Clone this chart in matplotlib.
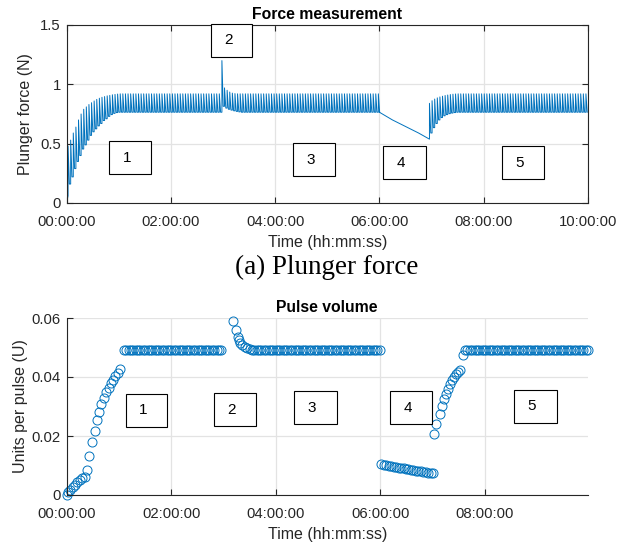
import numpy as np
import matplotlib
matplotlib.use("Agg")
import matplotlib.pyplot as plt
from matplotlib.patches import Rectangle
from matplotlib.ticker import FuncFormatter, FixedLocator

plt.rcParams['font.family'] = ['Liberation Sans', 'DejaVu Sans']

BLUE = '#0072BD'
DARK = '#262626'
GRID = '#e3e3e3'

# ---------------- Force measurement data (hours, N) ----------------
force_period_h = 0.05
# region 1: rising pulses
f1_times = [0.03, 0.08, 0.13, 0.18, 0.23, 0.28, 0.33, 0.38, 0.43, 0.48, 0.53,
            0.58, 0.63, 0.68, 0.73, 0.78, 0.83, 0.88, 0.93, 0.98, 1.03]
f1_peaks = [0.48, 0.53, 0.59, 0.64, 0.70, 0.75, 0.79, 0.81, 0.83, 0.845, 0.86,
            0.873, 0.883, 0.891, 0.897, 0.903, 0.907, 0.912, 0.915, 0.918, 0.92]
f1_troughs = [0.06, 0.16, 0.22, 0.29, 0.35, 0.40, 0.455, 0.49, 0.53, 0.57, 0.60,
              0.625, 0.65, 0.67, 0.695, 0.71, 0.73, 0.745, 0.755, 0.762, 0.765]
f_start_value = 0.0
# steady levels
f_peak_steady = 0.92
f_trough_steady = 0.765
# region 2: spike and recovery
f2_times = [2.98, 3.03, 3.08, 3.13, 3.18, 3.23, 3.28, 3.33]
f2_peaks = [1.20, 0.97, 0.95, 0.935, 0.926, 0.922, 0.92, 0.92]
f2_troughs = [0.765, 0.815, 0.80, 0.79, 0.783, 0.777, 0.772, 0.768]
# region 4: no pulses, slow decline
f4_times = [6.00, 6.25, 6.50, 6.75, 6.96]
f4_values = [0.765, 0.70, 0.645, 0.59, 0.538]
# region 5: recovery pulses
f5_times = [6.96, 7.01, 7.06, 7.11, 7.16, 7.21, 7.26, 7.31, 7.36, 7.41, 7.46, 7.51]
f5_peaks = [0.84, 0.862, 0.876, 0.886, 0.894, 0.90, 0.906, 0.91, 0.914, 0.917, 0.919, 0.92]
f5_troughs = [0.538, 0.59, 0.635, 0.67, 0.70, 0.72, 0.735, 0.745, 0.753, 0.758, 0.762, 0.765]
f_end_time = 10.0

# ---------------- Pulse volume data (hours, U) ----------------
pv1_times = [0.0, 0.031, 0.076, 0.12, 0.165, 0.21, 0.254, 0.305, 0.35, 0.394,
             0.433, 0.496, 0.541, 0.586, 0.624, 0.669, 0.713, 0.764, 0.809,
             0.847, 0.892, 0.936, 0.98, 1.03]
pv1_values = [0.0, 0.0009, 0.0017, 0.0026, 0.0035, 0.0043, 0.0051, 0.0056,
              0.0062, 0.0085, 0.0132, 0.0178, 0.0216, 0.0254, 0.0283, 0.0309,
              0.033, 0.0348, 0.0363, 0.0378, 0.0391, 0.0404, 0.0415, 0.0427]
pv_plateau_value = 0.0493
pv_pulse_h = 0.045
pv_plateau1 = (1.096, 2.96)
pv2_times = [3.186, 3.237, 3.275, 3.30, 3.325, 3.36, 3.41, 3.45, 3.50]
pv2_values = [0.0589, 0.0558, 0.0536, 0.0524, 0.0515, 0.0507, 0.0501, 0.0498, 0.0495]
pv_plateau3 = (3.545, 5.99)
pv4_times = [6.02, 6.067, 6.114, 6.161, 6.208, 6.255, 6.302, 6.349, 6.396, 6.443,
             6.49, 6.537, 6.584, 6.631, 6.678, 6.725, 6.772, 6.819, 6.866, 6.913,
             6.96, 7.007]
pv4_values = [0.0104, 0.0103, 0.0101, 0.0099, 0.0098, 0.0096, 0.0095, 0.0093,
              0.0092, 0.0090, 0.0089, 0.0087, 0.0086, 0.0084, 0.0083, 0.0081,
              0.0080, 0.0079, 0.0077, 0.0076, 0.0075, 0.0073]
pv5_times = [7.03, 7.07, 7.14, 7.18, 7.22, 7.26, 7.30, 7.34, 7.37, 7.41, 7.45,
             7.49, 7.53, 7.58]
pv5_values = [0.0206, 0.024, 0.0276, 0.0301, 0.0325, 0.0344, 0.0361, 0.0377,
              0.0389, 0.040, 0.0411, 0.0418, 0.0425, 0.0475]
pv_plateau5 = (7.62, 9.97)

# ---------------- build force trace ----------------
def pulses(times, peaks, troughs, next_trough):
    xs, ys = [], []
    for i, t in enumerate(times):
        tr_next = troughs[i + 1] if i + 1 < len(troughs) else next_trough
        xs += [t, t, t + 0.5 * force_period_h]
        ys += [troughs[i], peaks[i], tr_next]
    return xs, ys

fx, fy = [0.0], [f_start_value]
x, y = pulses(f1_times, f1_peaks, f1_troughs, f_trough_steady)
fx += x; fy += y
s1 = np.arange(f1_times[-1] + force_period_h, f2_times[0] - 1e-6, force_period_h)
x, y = pulses(list(s1), [f_peak_steady] * len(s1), [f_trough_steady] * len(s1), f_trough_steady)
fx += x; fy += y
x, y = pulses(f2_times, f2_peaks, f2_troughs, f_trough_steady)
fx += x; fy += y
s3 = np.arange(f2_times[-1] + force_period_h, f4_times[0] - 1e-6, force_period_h)
x, y = pulses(list(s3), [f_peak_steady] * len(s3), [f_trough_steady] * len(s3), f_trough_steady)
fx += x; fy += y
fx += f4_times; fy += f4_values
x, y = pulses(f5_times, f5_peaks, f5_troughs, f_trough_steady)
fx += x; fy += y
s5 = np.arange(f5_times[-1] + force_period_h, f_end_time - 0.02, force_period_h)
x, y = pulses(list(s5), [f_peak_steady] * len(s5), [f_trough_steady] * len(s5), f_trough_steady)
fx += x; fy += y

# ---------------- build pulse volume points ----------------
def plateau(rng):
    n = int(round((rng[1] - rng[0]) / pv_pulse_h)) + 1
    return list(np.linspace(rng[0], rng[1], n)), [pv_plateau_value] * n

px, py = [], []
px += pv1_times; py += pv1_values
a, b = plateau(pv_plateau1); px += a; py += b
px += pv2_times; py += pv2_values
a, b = plateau(pv_plateau3); px += a; py += b
px += pv4_times; py += pv4_values
px += pv5_times; py += pv5_values
a, b = plateau(pv_plateau5); px += a; py += b

# ---------------- figure ----------------
W, H = 633, 546
fig = plt.figure(figsize=(W / 100, H / 100), dpi=100)

def ax_rect(l, t, r, b):
    return [l / W, 1 - b / H, (r - l) / W, (b - t) / H]

def hms(v, pos):
    total = int(round(v * 3600))
    return f"{total // 3600:02d}:{(total % 3600) // 60:02d}:{total % 60:02d}"

TICK_FS = 10.7
LABEL_FS = 11.5
TITLE_FS = 11.3

def style(ax, box):
    ax.set_axisbelow(True)
    ax.grid(True, color=GRID, linewidth=0.9)
    ax.tick_params(direction='in', length=4, width=0.8, colors=DARK,
                   labelsize=TICK_FS, labelcolor=DARK, top=box, right=box)
    ax.tick_params(axis='x', pad=8.5)
    ax.tick_params(axis='y', pad=4)
    for s in ax.spines.values():
        s.set_color(DARK)
        s.set_linewidth(0.8)
    if not box:
        ax.spines['top'].set_visible(False)
        ax.spines['right'].set_visible(False)
    ax.xaxis.set_major_formatter(FuncFormatter(hms))

ax1 = fig.add_axes(ax_rect(66.5, 25, 588, 203))
ax1.plot(fx, fy, color=BLUE, linewidth=0.7)
ax1.set_xlim(0, 10)
ax1.set_ylim(0, 1.5)
ax1.xaxis.set_major_locator(FixedLocator([0, 2, 4, 6, 8, 10]))
ax1.yaxis.set_major_locator(FixedLocator([0, 0.5, 1, 1.5]))
ax1.yaxis.set_major_formatter(FuncFormatter(lambda v, p: f"{v:g}"))
style(ax1, True)
ax1.set_title('Force measurement', fontsize=TITLE_FS, fontweight='bold', color='black', pad=4)
ax1.set_xlabel('Time (hh:mm:ss)', fontsize=LABEL_FS, color=DARK, labelpad=4.5)
ax1.set_ylabel('Plunger force (N)', fontsize=LABEL_FS, color=DARK, labelpad=5)

ax2 = fig.add_axes(ax_rect(66.5, 318, 588, 495))
ax2.plot(px, py, linestyle='none', marker='o', markersize=6.5, markerfacecolor='none',
         markeredgecolor=BLUE, markeredgewidth=0.7, clip_on=False)
ax2.set_xlim(0, 9.97)
ax2.set_ylim(0, 0.06)
ax2.xaxis.set_major_locator(FixedLocator([0, 2, 4, 6, 8]))
ax2.yaxis.set_major_locator(FixedLocator([0, 0.02, 0.04, 0.06]))
ax2.yaxis.set_major_formatter(FuncFormatter(lambda v, p: f"{v:g}"))
style(ax2, False)
ax2.set_title('Pulse volume', fontsize=TITLE_FS, fontweight='bold', color='black', pad=4)
ax2.set_xlabel('Time (hh:mm:ss)', fontsize=LABEL_FS, color=DARK, labelpad=4.5)
ax2.set_ylabel('Units per pulse (U)', fontsize=LABEL_FS, color=DARK, labelpad=3)

# caption
fig.text(327 / W, 1 - 267 / H, '(a) Plunger force', ha='center', va='center',
         fontsize=19.5, family=['Liberation Serif', 'DejaVu Serif'], color='black')

# annotation boxes (pixel rectangles: left, top, right, bottom)
boxes_top = [('1', 109, 141, 151, 174), ('2', 211, 24, 252, 57),
             ('3', 293, 143, 335, 176), ('4', 383, 146, 426, 179),
             ('5', 502, 146, 544, 179)]
boxes_bot = [('1', 126, 394, 167, 427), ('2', 214, 393, 256, 426),
             ('3', 294, 391, 337, 424), ('4', 390, 391, 432, 424),
             ('5', 514, 390, 557, 423)]
for lab, l, t, r, b in boxes_top + boxes_bot:
    fig.add_artist(Rectangle((l / W, 1 - b / H), (r - l) / W, (b - t) / H,
                             transform=fig.transFigure, facecolor='white',
                             edgecolor='black', linewidth=0.8))
    fig.text((l + (r - l) * 0.42) / W, 1 - (t + b) / 2 / H, lab, ha='center',
             va='center', fontsize=11, color='black')

fig.savefig('out.png', dpi=100)
